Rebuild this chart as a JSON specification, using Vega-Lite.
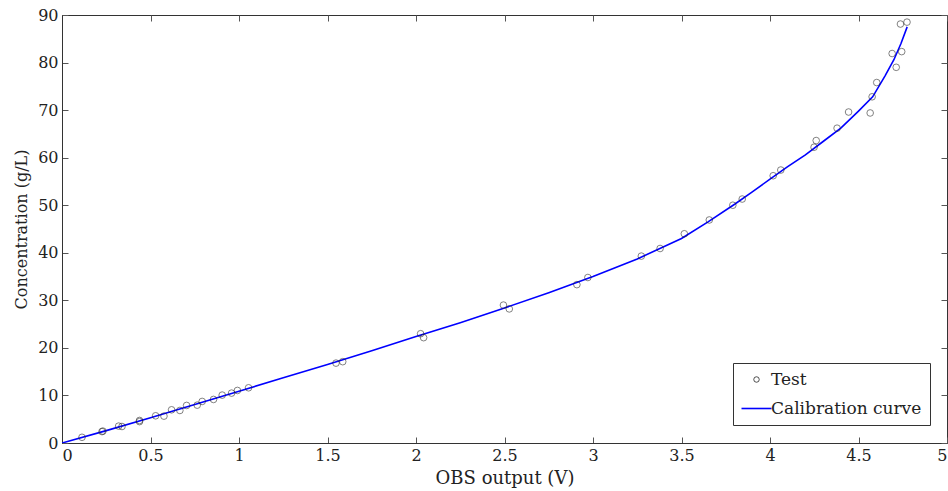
{
  "$schema": "https://vega.github.io/schema/vega-lite/v6.json",
  "autosize": {"type": "none"},
  "padding": {"left": 62, "top": 15, "right": 1, "bottom": 48},
  "width": 885,
  "height": 428,
  "background": "white",
  "config": {
    "font": "DejaVu Serif",
    "view": {"stroke": "#333333", "strokeWidth": 1},
    "axis": {"grid": false, "labelFont": "DejaVu Serif", "titleFont": "DejaVu Serif", "labelFontSize": 16, "titleFontSize": 17, "titleFontWeight": "normal", "labelColor": "#222", "titleColor": "#222", "domainColor": "#333", "tickColor": "#555", "tickSize": -6, "labelPadding": 10}
  },
  "datasets": {
    "test": [
      {"x": 0.113, "y": 1.2, "series": "Test"},
      {"x": 0.226, "y": 2.4, "series": "Test"},
      {"x": 0.231, "y": 2.5, "series": "Test"},
      {"x": 0.32, "y": 3.55, "series": "Test"},
      {"x": 0.339, "y": 3.47, "series": "Test"},
      {"x": 0.438, "y": 4.74, "series": "Test"},
      {"x": 0.438, "y": 4.5, "series": "Test"},
      {"x": 0.529, "y": 5.72, "series": "Test"},
      {"x": 0.576, "y": 5.65, "series": "Test"},
      {"x": 0.619, "y": 6.98, "series": "Test"},
      {"x": 0.666, "y": 6.84, "series": "Test"},
      {"x": 0.704, "y": 7.9, "series": "Test"},
      {"x": 0.764, "y": 7.96, "series": "Test"},
      {"x": 0.792, "y": 8.74, "series": "Test"},
      {"x": 0.856, "y": 9.16, "series": "Test"},
      {"x": 0.905, "y": 10.07, "series": "Test"},
      {"x": 0.958, "y": 10.49, "series": "Test"},
      {"x": 0.991, "y": 11.05, "series": "Test"},
      {"x": 1.054, "y": 11.61, "series": "Test"},
      {"x": 1.548, "y": 16.8, "series": "Test"},
      {"x": 1.586, "y": 17.1, "series": "Test"},
      {"x": 2.026, "y": 22.98, "series": "Test"},
      {"x": 2.043, "y": 22.15, "series": "Test"},
      {"x": 2.494, "y": 29.0, "series": "Test"},
      {"x": 2.527, "y": 28.2, "series": "Test"},
      {"x": 2.909, "y": 33.3, "series": "Test"},
      {"x": 2.971, "y": 34.8, "series": "Test"},
      {"x": 3.273, "y": 39.3, "series": "Test"},
      {"x": 3.379, "y": 40.9, "series": "Test"},
      {"x": 3.516, "y": 44.0, "series": "Test"},
      {"x": 3.657, "y": 46.9, "series": "Test"},
      {"x": 3.79, "y": 50.0, "series": "Test"},
      {"x": 3.843, "y": 51.3, "series": "Test"},
      {"x": 4.018, "y": 56.2, "series": "Test"},
      {"x": 4.061, "y": 57.4, "series": "Test"},
      {"x": 4.249, "y": 62.2, "series": "Test"},
      {"x": 4.261, "y": 63.6, "series": "Test"},
      {"x": 4.379, "y": 66.2, "series": "Test"},
      {"x": 4.444, "y": 69.6, "series": "Test"},
      {"x": 4.566, "y": 69.4, "series": "Test"},
      {"x": 4.577, "y": 72.8, "series": "Test"},
      {"x": 4.603, "y": 75.8, "series": "Test"},
      {"x": 4.69, "y": 81.9, "series": "Test"},
      {"x": 4.713, "y": 79.0, "series": "Test"},
      {"x": 4.744, "y": 82.3, "series": "Test"},
      {"x": 4.737, "y": 88.1, "series": "Test"},
      {"x": 4.774, "y": 88.5, "series": "Test"}
    ],
    "curve": [
      {"x": 0, "y": 0, "series": "Calibration curve"},
      {"x": 0.25, "y": 2.6, "series": "Calibration curve"},
      {"x": 0.5, "y": 5.3, "series": "Calibration curve"},
      {"x": 0.75, "y": 8.1, "series": "Calibration curve"},
      {"x": 1.0, "y": 10.9, "series": "Calibration curve"},
      {"x": 1.25, "y": 13.7, "series": "Calibration curve"},
      {"x": 1.5, "y": 16.5, "series": "Calibration curve"},
      {"x": 1.75, "y": 19.4, "series": "Calibration curve"},
      {"x": 2.0, "y": 22.4, "series": "Calibration curve"},
      {"x": 2.25, "y": 25.3, "series": "Calibration curve"},
      {"x": 2.5, "y": 28.4, "series": "Calibration curve"},
      {"x": 2.75, "y": 31.6, "series": "Calibration curve"},
      {"x": 3.0, "y": 35.0, "series": "Calibration curve"},
      {"x": 3.25, "y": 38.7, "series": "Calibration curve"},
      {"x": 3.5, "y": 43.0, "series": "Calibration curve"},
      {"x": 3.65, "y": 46.5, "series": "Calibration curve"},
      {"x": 3.8, "y": 50.2, "series": "Calibration curve"},
      {"x": 3.9, "y": 52.8, "series": "Calibration curve"},
      {"x": 4.0, "y": 55.5, "series": "Calibration curve"},
      {"x": 4.1, "y": 58.1, "series": "Calibration curve"},
      {"x": 4.2, "y": 60.6, "series": "Calibration curve"},
      {"x": 4.3, "y": 63.4, "series": "Calibration curve"},
      {"x": 4.4, "y": 66.2, "series": "Calibration curve"},
      {"x": 4.5, "y": 69.8, "series": "Calibration curve"},
      {"x": 4.58, "y": 72.8, "series": "Calibration curve"},
      {"x": 4.65, "y": 77.2, "series": "Calibration curve"},
      {"x": 4.7, "y": 80.6, "series": "Calibration curve"},
      {"x": 4.74, "y": 84.0, "series": "Calibration curve"},
      {"x": 4.775, "y": 87.5, "series": "Calibration curve"}
    ]
  },
  "layer": [
    {
      "data": {"name": "curve"},
      "mark": {"type": "line", "strokeWidth": 1.6, "clip": true},
      "encoding": {
        "x": {"field": "x", "type": "quantitative", "scale": {"domain": [0, 5], "nice": false}, "axis": {"title": "OBS output (V)", "titleFontSize": 18, "values": [0, 0.5, 1, 1.5, 2, 2.5, 3, 3.5, 4, 4.5, 5], "format": "~g", "titlePadding": 6}},
        "y": {"field": "y", "type": "quantitative", "scale": {"domain": [0, 90], "nice": false}, "axis": {"title": "Concentration (g/L)", "titleFontSize": 16, "values": [0, 10, 20, 30, 40, 50, 60, 70, 80, 90], "titlePadding": 8}},
        "color": {
          "field": "series", "type": "nominal",
          "scale": {"domain": ["Test", "Calibration curve"], "range": ["#222222", "#0000ff"]},
          "legend": {
            "title": null, "orient": "none", "legendX": 671, "legendY": 348,
            "strokeColor": "#333", "fillColor": "white", "padding": 8,
            "labelFont": "DejaVu Serif", "labelFontSize": 17, "labelColor": "#222",
            "symbolSize": 900, "symbolOffset": 7, "rowPadding": 11, "labelOffset": 6,
            "encode": {"symbols": {"update": {
              "shape": {"signal": "datum.value === 'Test' ? 'circle' : 'stroke'"},
              "size": {"signal": "datum.value === 'Test' ? 30 : 900"},
              "stroke": {"signal": "datum.value === 'Test' ? '#222' : '#0000ff'"},
              "fill": {"value": "transparent"},
              "strokeWidth": {"signal": "datum.value === 'Test' ? 0.8 : 1.6"}
            }}}
          }
        }
      }
    },
    {
      "data": {"name": "test"},
      "mark": {"type": "point", "filled": false, "size": 44, "strokeWidth": 0.8, "clip": true},
      "encoding": {
        "x": {"field": "x", "type": "quantitative", "axis": null},
        "y": {"field": "y", "type": "quantitative", "axis": null},
        "color": {"field": "series", "type": "nominal"}
      }
    },
    {
      "data": {"name": "test"},
      "mark": {"type": "point", "opacity": 0},
      "encoding": {
        "x": {"field": "x", "type": "quantitative", "axis": {"orient": "top", "labels": false, "title": null, "domain": false, "ticks": true, "tickSize": -6, "tickColor": "#555", "values": [0, 0.5, 1, 1.5, 2, 2.5, 3, 3.5, 4, 4.5, 5]}},
        "y": {"field": "y", "type": "quantitative", "axis": {"orient": "right", "labels": false, "title": null, "domain": false, "ticks": true, "tickSize": -6, "tickColor": "#555", "values": [0, 10, 20, 30, 40, 50, 60, 70, 80, 90]}}
      }
    }
  ],
  "resolve": {"axis": {"x": "independent", "y": "independent"}}
}
